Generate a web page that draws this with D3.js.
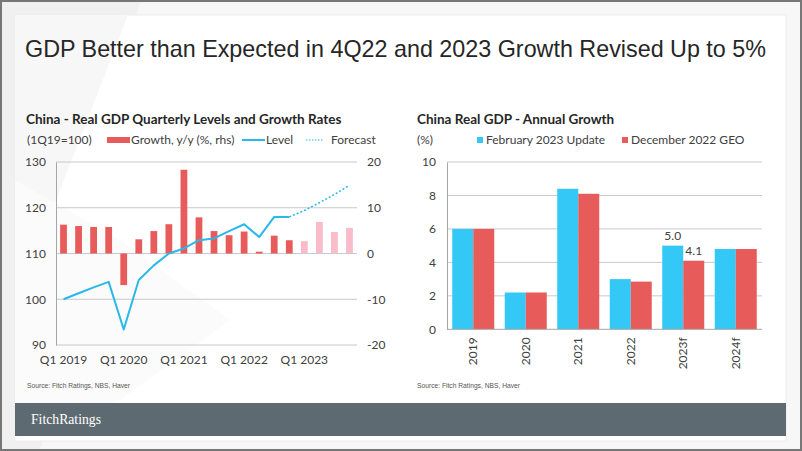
<!DOCTYPE html>
<html>
<head>
<meta charset="utf-8">
<script src="https://cdn.jsdelivr.net/npm/d3@7"></script>
<style>
  body { margin: 0; background: #ffffff; }
  svg { display: block; }
  text { font-family: Lato, "Open Sans", sans-serif; }
</style>
</head>
<body>
<div id="chart"></div>
<script>
// ---------------- DATA ----------------
const quarters = ["Q1 2019","Q2 2019","Q3 2019","Q4 2019","Q1 2020","Q2 2020","Q3 2020","Q4 2020",
                  "Q1 2021","Q2 2021","Q3 2021","Q4 2021","Q1 2022","Q2 2022","Q3 2022","Q4 2022",
                  "Q1 2023","Q2 2023","Q3 2023","Q4 2023"];
const quarterTicks = ["Q1 2019","Q1 2020","Q1 2021","Q1 2022","Q1 2023"];
// y/y growth, % (rhs) – actual quarters then forecast quarters
const growthActual   = [6.3, 6.0, 5.8, 5.8, -6.9, 3.1, 4.9, 6.4, 18.3, 7.9, 4.9, 4.0, 4.8, 0.4, 3.9, 2.9];
const growthForecast = [2.7, 6.9, 4.7, 5.6];
// GDP level, 1Q19 = 100 (lhs)
const levelActual   = [100, 101.3, 102.6, 103.8, 93.4, 104.2, 107.4, 110.0, 111.1, 112.9, 113.3, 114.9, 116.4, 113.6, 118.0, 118.0];
const levelForecast = [118.0, 119.4, 121.1, 122.9, 124.9]; // from Q4 2022
const levelTicks  = [90, 100, 110, 120, 130];
const growthTicks = [-20, -10, 0, 10, 20];

const years = ["2019","2020","2021","2022","2023f","2024f"];
const febUpdate = [6.0, 2.2, 8.4, 3.0, 5.0, 4.8];
const decGEO    = [6.0, 2.2, 8.1, 2.85, 4.1, 4.8];
const annualTicks = [0, 2, 4, 6, 8, 10];
const annualSeries = ["February 2023 Update", "December 2022 GEO"];
const labelledYear = "2023f";

// ---------------- STYLE ----------------
const RED = "#e85b5b", PINK = "#f8bccb", BLUE = "#33c8f5", LINE = "#29b8ea";
const GRID = "#c9c9c9", AXIS = "#a6a6a6", TXT = "#404040", TITLE = "#262626";

const W = 802, H = 451;
const svg = d3.select("#chart").append("svg").attr("width", W).attr("height", H);

// slide background
svg.append("rect").attr("x", 0).attr("y", 0).attr("width", W).attr("height", H).attr("fill", "#f7f7f7");
svg.append("polygon").attr("points", "0,0 140,0 40,451 0,451").attr("fill", "#f0f0f0");
svg.append("rect").attr("x", 15).attr("y", 15).attr("width", 771).attr("height", 426)
   .attr("fill", "#ffffff").attr("stroke", "#ececec");
svg.append("polygon").attr("points", "15,15 128,15 60,190 15,300").attr("fill", "#f7f7f7");
svg.append("polygon").attr("points", "15,180 120,240 230,320 120,400 15,440").attr("fill", "#fbfbfb");
svg.append("rect").attr("x", 1).attr("y", 1).attr("width", W - 2).attr("height", H - 2)
   .attr("fill", "none").attr("stroke", "#777").attr("stroke-width", 2);

// main title
svg.append("text").attr("x", 25).attr("y", 57)
   .attr("font-family", "'Liberation Sans', Arial, sans-serif").attr("font-size", 24)
   .attr("fill", TITLE).attr("textLength", 741).attr("lengthAdjust", "spacingAndGlyphs")
   .style("font-family", "'Liberation Sans', Arial, sans-serif")
   .text("GDP Better than Expected in 4Q22 and 2023 Growth Revised Up to 5%");

// footer
svg.append("rect").attr("x", 15).attr("y", 403).attr("width", 771).attr("height", 33).attr("fill", "#5e6a72");
svg.append("text").attr("x", 31).attr("y", 424).style("font-family", "'Liberation Serif', 'DejaVu Serif', serif")
   .attr("font-size", 15).attr("fill", "#ffffff").attr("textLength", 70).attr("lengthAdjust", "spacingAndGlyphs")
   .text("FitchRatings");

function source(x) {
  svg.append("text").attr("x", x).attr("y", 388)
     .style("font-family", "'Liberation Sans', Arial, sans-serif").attr("font-size", 7.5)
     .attr("fill", "#555").attr("textLength", 103).attr("lengthAdjust", "spacingAndGlyphs")
     .text("Source: Fitch Ratings, NBS, Haver");
}
source(27); source(417);

// ================= LEFT CHART =================
const L = { x0: 56, x1: 357, yTop: 162, yBot: 345 };
const gL = svg.append("g");
gL.append("text").attr("x", 26).attr("y", 124).attr("font-size", 13.5).attr("font-weight", 700)
  .attr("fill", TITLE).text("China - Real GDP Quarterly Levels and Growth Rates");

const xq = d3.scaleBand().domain(quarters).range([L.x0, L.x1]).paddingInner(0.55).paddingOuter(0.275);
const yLev = d3.scaleLinear().domain([90, 130]).range([L.yBot, L.yTop]);
const yGr = d3.scaleLinear().domain([-20, 20]).range([L.yBot, L.yTop]);
const cx = q => xq(q) + xq.bandwidth() / 2;

// gridlines
gL.append("g").selectAll("line").data(levelTicks).join("line")
  .attr("x1", L.x0).attr("x2", L.x1).attr("y1", d => yLev(d)).attr("y2", d => yLev(d))
  .attr("stroke", GRID).attr("stroke-width", 1);

// left axis
const axL = gL.append("g").attr("transform", `translate(${L.x0},0)`)
  .call(d3.axisLeft(yLev).tickValues(levelTicks).tickSize(0).tickPadding(10));
axL.select(".domain").attr("stroke", AXIS);
axL.selectAll("text").attr("font-size", 12).attr("fill", TXT).style("font-family", "Lato");

// right axis
const axR = gL.append("g").attr("transform", `translate(${L.x1},0)`)
  .call(d3.axisRight(yGr).tickValues(growthTicks).tickSize(0).tickPadding(10)
        .tickFormat(d => d < 0 ? "-" + Math.abs(d) : d));
axR.select(".domain").remove();
axR.selectAll("text").attr("font-size", 12).attr("fill", TXT).style("font-family", "Lato");

// bars
const growthData = quarters.map((q, i) => ({
  q, v: i < growthActual.length ? growthActual[i] : growthForecast[i - growthActual.length],
  f: i >= growthActual.length
}));
gL.append("g").selectAll("rect").data(growthData).join("rect")
  .attr("x", d => xq(d.q)).attr("width", xq.bandwidth())
  .attr("y", d => yGr(Math.max(0, d.v))).attr("height", d => Math.abs(yGr(d.v) - yGr(0)))
  .attr("fill", d => d.f ? PINK : RED);

// level line
const lineGen = d3.line().x(d => cx(d.q)).y(d => yLev(d.v));
const actPts = levelActual.map((v, i) => ({ q: quarters[i], v }));
const fcPts = levelForecast.map((v, i) => ({ q: quarters[levelActual.length - 1 + i], v }));
gL.append("path").datum(actPts).attr("d", lineGen).attr("fill", "none")
  .attr("stroke", LINE).attr("stroke-width", 2).attr("stroke-linejoin", "round");
gL.append("path").datum(fcPts).attr("d", lineGen).attr("fill", "none")
  .attr("stroke", LINE).attr("stroke-width", 1.5).attr("stroke-dasharray", "2,2");

// x labels
gL.append("g").selectAll("text").data(quarterTicks).join("text")
  .attr("x", d => cx(d)).attr("y", 364).attr("text-anchor", "middle")
  .attr("font-size", 12).attr("fill", TXT).text(d => d);

// legend
const lg = gL.append("g");
lg.append("text").attr("x", 27).attr("y", 144).attr("font-size", 12).attr("fill", TXT).text("(1Q19=100)");
lg.append("rect").attr("x", 107).attr("y", 137).attr("width", 23).attr("height", 6).attr("fill", RED);
lg.append("text").attr("x", 131).attr("y", 144).attr("font-size", 12).attr("fill", TXT).text("Growth, y/y (%, rhs)");
lg.append("line").attr("x1", 242).attr("x2", 265).attr("y1", 140).attr("y2", 140).attr("stroke", LINE).attr("stroke-width", 2);
lg.append("text").attr("x", 266).attr("y", 144).attr("font-size", 12).attr("fill", TXT).text("Level");
lg.append("line").attr("x1", 306).attr("x2", 323).attr("y1", 140).attr("y2", 140).attr("stroke", LINE)
  .attr("stroke-width", 1).attr("stroke-dasharray", "1.5,1.5");
lg.append("text").attr("x", 331).attr("y", 144).attr("font-size", 12).attr("fill", TXT).text("Forecast");

// ================= RIGHT CHART =================
const R = { x0: 447, x1: 762, yTop: 162, yBot: 329.3 };
const gR = svg.append("g");
gR.append("text").attr("x", 417).attr("y", 124).attr("font-size", 13.5).attr("font-weight", 700)
  .attr("fill", TITLE).text("China Real GDP - Annual Growth");

const xy = d3.scaleBand().domain(years).range([R.x0, R.x1]).paddingInner(0.2).paddingOuter(0.1);
const xs = d3.scaleBand().domain(annualSeries).range([0, xy.bandwidth()]);
const ya = d3.scaleLinear().domain([0, 10]).range([R.yBot, R.yTop]);

gR.append("g").selectAll("line").data(annualTicks.filter(d => d > 0)).join("line")
  .attr("x1", R.x0).attr("x2", R.x1).attr("y1", d => ya(d)).attr("y2", d => ya(d))
  .attr("stroke", GRID);

const colors = { "February 2023 Update": BLUE, "December 2022 GEO": RED };
const annualData = years.flatMap((y, i) => [
  { y, s: annualSeries[0], v: febUpdate[i] },
  { y, s: annualSeries[1], v: decGEO[i] }
]);
gR.append("g").selectAll("rect").data(annualData).join("rect")
  .attr("x", d => xy(d.y) + xs(d.s)).attr("width", xs.bandwidth())
  .attr("y", d => ya(d.v)).attr("height", d => ya(0) - ya(d.v))
  .attr("fill", d => colors[d.s]);

// data labels for 2023f
gR.append("g").selectAll("text").data(annualData.filter(d => d.y === labelledYear)).join("text")
  .attr("x", d => xy(d.y) + xs(d.s) + xs.bandwidth() / 2).attr("y", d => ya(d.v) - 6)
  .attr("text-anchor", "middle").attr("font-size", 12).attr("fill", TXT).text(d => d.v.toFixed(1));

const ayL = gR.append("g").attr("transform", `translate(${R.x0},0)`)
  .call(d3.axisLeft(ya).tickValues(annualTicks).tickSize(0).tickPadding(11));
ayL.select(".domain").attr("stroke", AXIS);
ayL.selectAll("text").attr("font-size", 12).attr("fill", TXT).style("font-family", "Lato");

const axB = gR.append("g").attr("transform", `translate(0,${R.yBot})`)
  .call(d3.axisBottom(xy).tickSize(0).tickPadding(8));
axB.select(".domain").attr("stroke", AXIS).attr("d", `M${R.x0},0H${R.x1}`);
axB.selectAll("text").attr("font-size", 12).attr("fill", TXT).style("font-family", "Lato")
  .attr("transform", "rotate(-90)").attr("text-anchor", "end")
  .attr("x", -8).attr("y", 0).attr("dy", "0.35em");

const lr = gR.append("g");
lr.append("text").attr("x", 417).attr("y", 144).attr("font-size", 12).attr("fill", TXT).text("(%)");
lr.append("rect").attr("x", 477).attr("y", 137).attr("width", 6).attr("height", 6).attr("fill", BLUE);
lr.append("text").attr("x", 486).attr("y", 144).attr("font-size", 12).attr("fill", TXT).text(annualSeries[0]);
lr.append("rect").attr("x", 622).attr("y", 137).attr("width", 6).attr("height", 6).attr("fill", RED);
lr.append("text").attr("x", 631).attr("y", 144).attr("font-size", 12).attr("fill", TXT).text(annualSeries[1]);
</script>
</body>
</html>
